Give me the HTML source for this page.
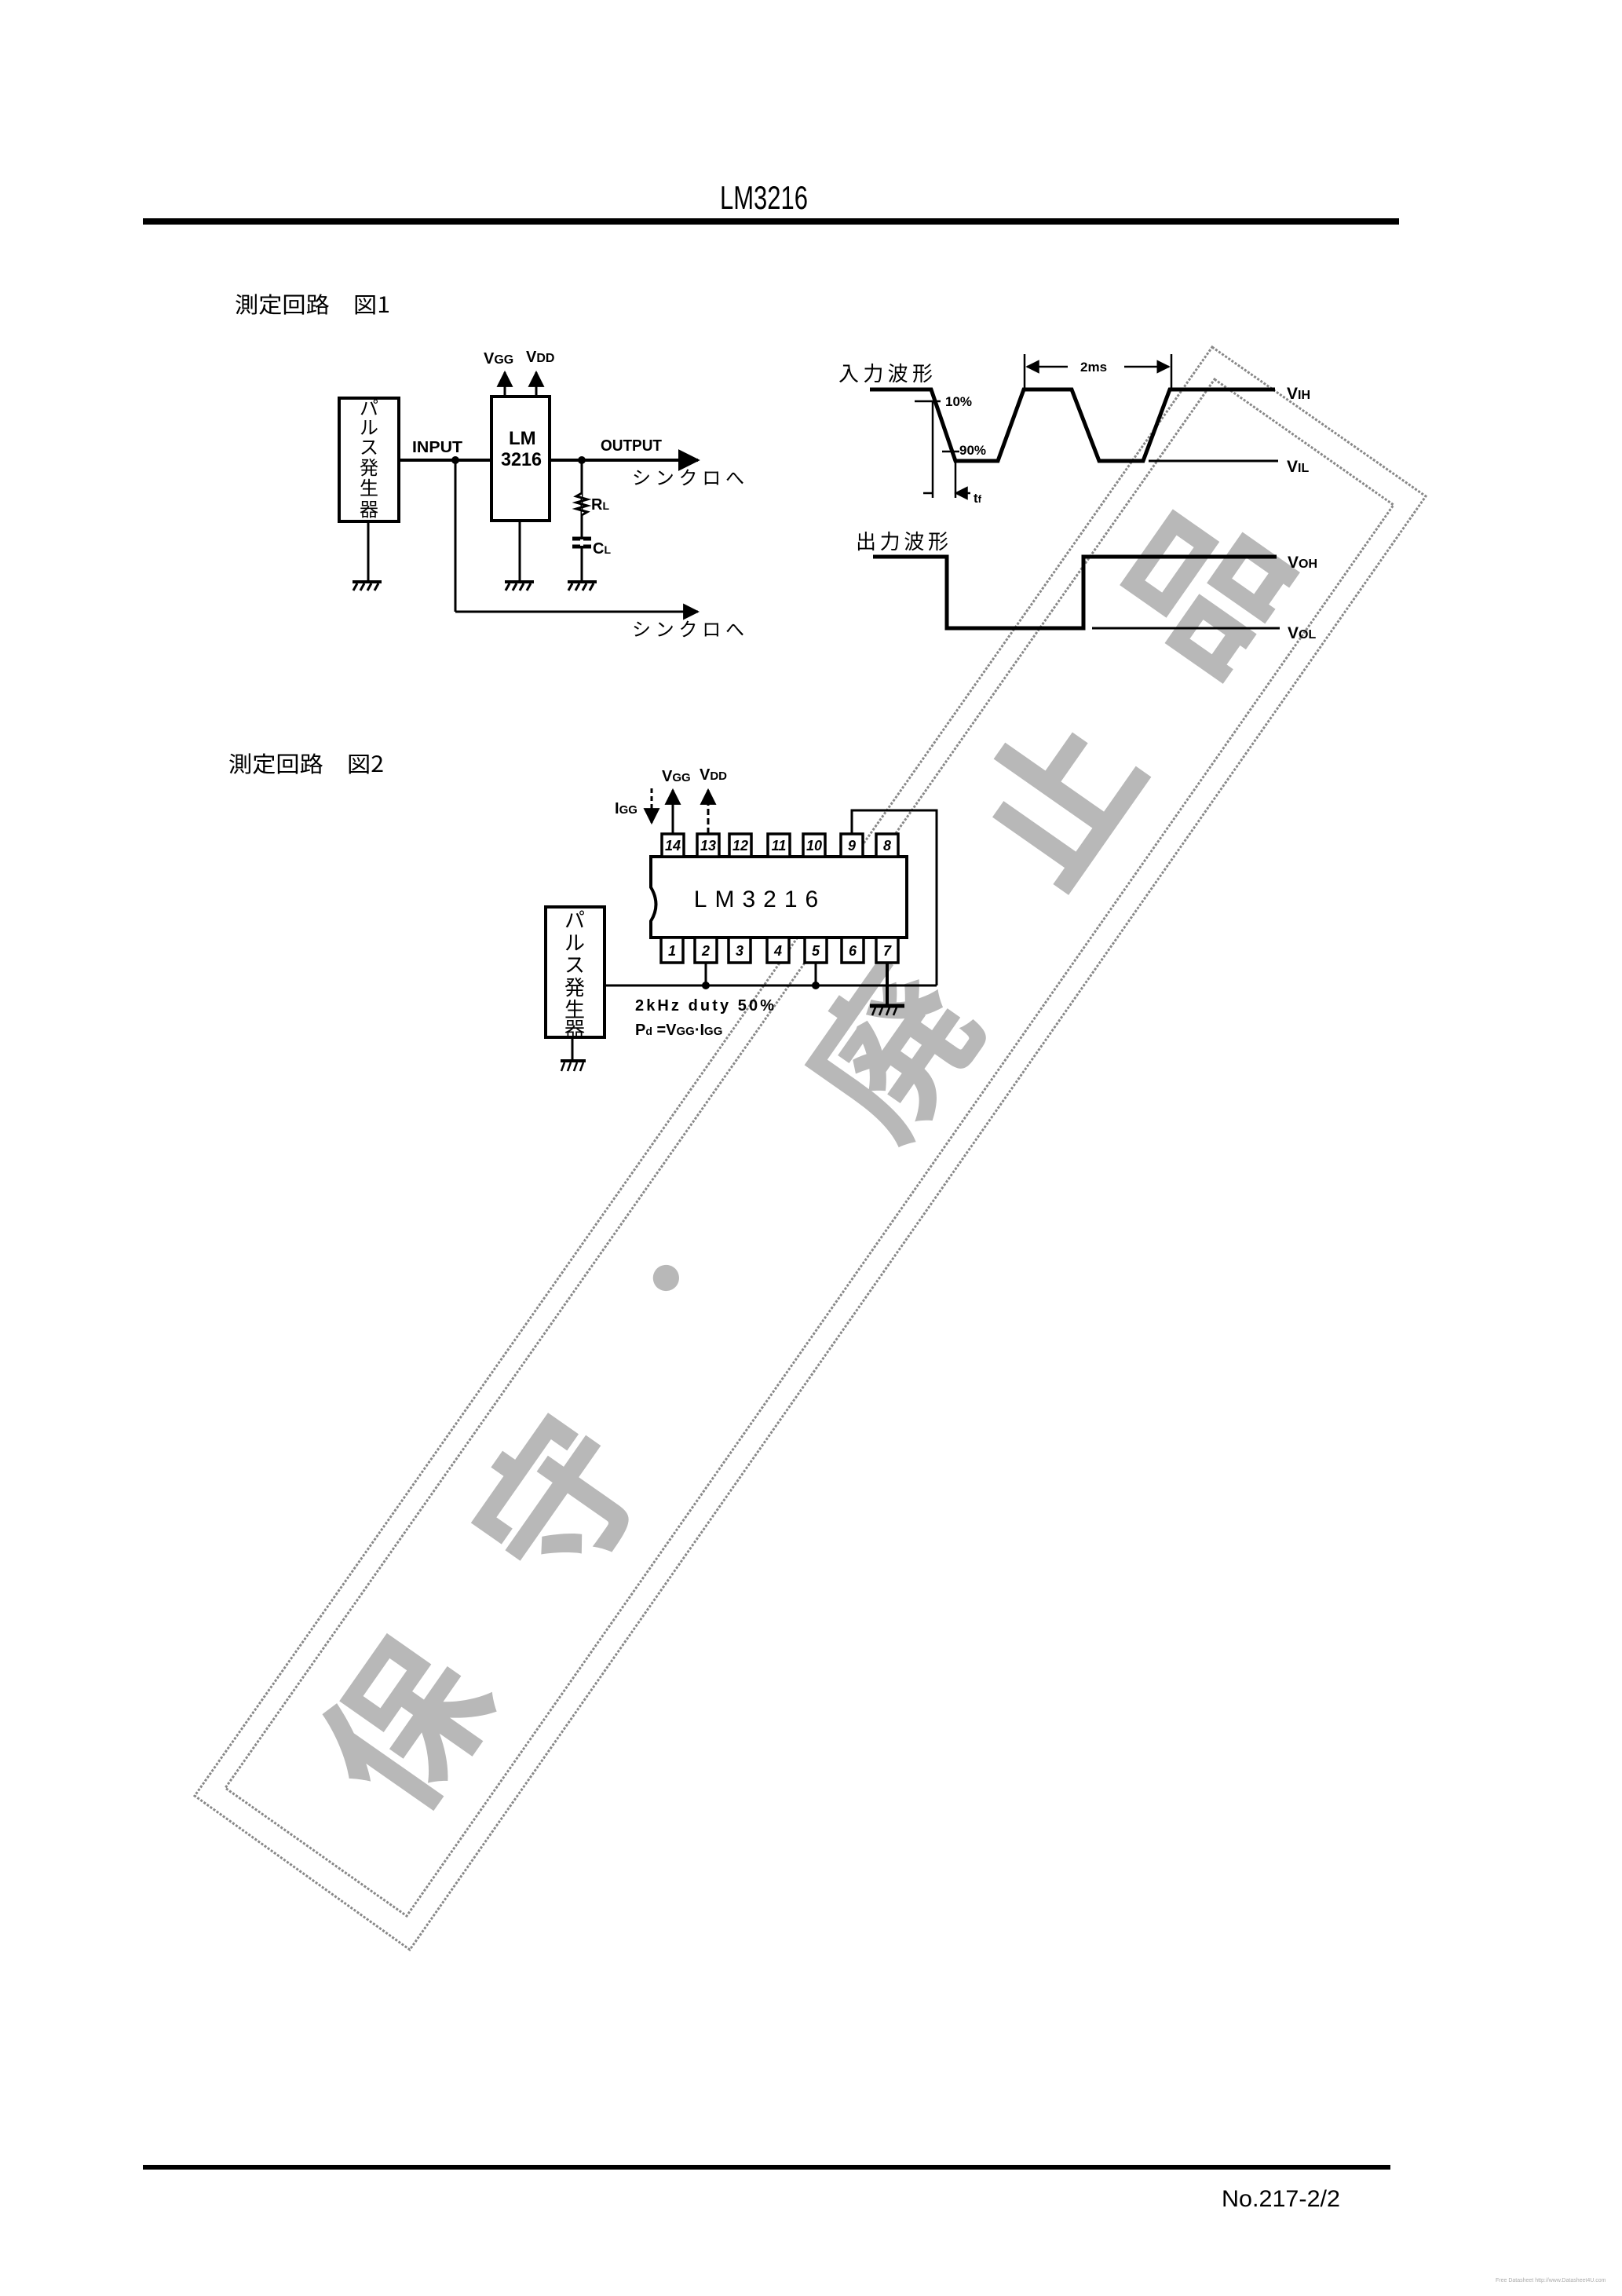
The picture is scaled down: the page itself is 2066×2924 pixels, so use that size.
<!DOCTYPE html>
<html><head><meta charset="utf-8"><style>
html,body{margin:0;padding:0;background:#fff;}
svg{display:block;}
text{font-family:"Liberation Sans","Noto Sans CJK JP",sans-serif;fill:#000;}
.j{font-family:"Noto Sans CJK JP","WenQuanYi Zen Hei",sans-serif;}
</style></head><body>
<svg width="2066" height="2924" viewBox="0 0 2066 2924" xmlns="http://www.w3.org/2000/svg">
<defs>
<marker id="ar" viewBox="0 0 10 10" refX="9" refY="5" markerWidth="7" markerHeight="7" orient="auto-start-reverse"><path d="M0,0 L10,5 L0,10 z" fill="#000"/></marker>
</defs>
<!-- watermark -->
<g fill="none" stroke="#888" stroke-width="3" stroke-dasharray="3 2">
<polygon points="1544,442 1816,632 522,2483 248,2287"/>
<polygon points="1547,483 1775,643 518,2440 287,2277"/>
</g>
<g font-size="200" font-weight="bold" text-anchor="middle">
<text class="j" x="520" y="2200" transform="rotate(-55 520 2200)" dy="70" style="fill:#b8b8b8">保</text>
<text class="j" x="715" y="1915" transform="rotate(-55 715 1915)" dy="70" style="fill:#b8b8b8">守</text>
<text class="j" x="852" y="1630" transform="rotate(-55 852 1630)" dy="45" font-size="130" style="fill:#b8b8b8">・</text>
<text class="j" x="1140" y="1340" transform="rotate(-55 1140 1340)" dy="70" style="fill:#b8b8b8">廃</text>
<text class="j" x="1350" y="1020" transform="rotate(-55 1350 1020)" dy="70" style="fill:#b8b8b8">止</text>
<text class="j" x="1535" y="750" transform="rotate(-55 1535 750)" dy="70" style="fill:#b8b8b8">品</text>
</g>

<!-- header -->
<text x="917" y="266" font-family="Liberation Mono" font-size="42" textLength="112" lengthAdjust="spacingAndGlyphs">LM3216</text>
<rect x="182" y="278" width="1600" height="8" fill="#000"/>
<text class="j" x="299" y="398" font-size="28" textLength="198" lengthAdjust="spacingAndGlyphs">測定回路　図1</text>

<!-- FIG 1 -->
<g stroke="#000" stroke-width="4" fill="none">
<rect x="432" y="507" width="76" height="157"/>
<line x1="469" y1="664" x2="469" y2="741" stroke-width="3"/>
<line x1="508" y1="586" x2="626" y2="586"/>
<line x1="580" y1="586" x2="580" y2="779" stroke-width="3"/>
<line x1="580" y1="779" x2="889" y2="779" stroke-width="3" marker-end="url(#ar)"/>
<rect x="626" y="505" width="74" height="158"/>
<line x1="643" y1="505" x2="643" y2="474" stroke-width="3" marker-end="url(#ar)"/>
<line x1="683" y1="505" x2="683" y2="474" stroke-width="3" marker-end="url(#ar)"/>
<line x1="700" y1="586" x2="889" y2="586" marker-end="url(#ar)"/>
<line x1="662" y1="663" x2="662" y2="741" stroke-width="3"/>
<line x1="741" y1="586" x2="741" y2="741" stroke-width="3"/>
<polyline points="741,628 734,632 748,636 734,640 748,644 734,648 748,652 741,656" stroke-width="3" fill="#fff"/>
<line x1="729" y1="686" x2="753" y2="686" stroke-width="5"/>
<line x1="729" y1="696" x2="753" y2="696" stroke-width="5"/>
</g>
<line x1="741" y1="687" x2="741" y2="695" stroke="#fff" stroke-width="4"/>
<circle cx="580" cy="586" r="5"/><circle cx="741" cy="586" r="5"/>
<g stroke="#000" stroke-width="3">
<line x1="449" y1="741" x2="486" y2="741" stroke-width="4"/>
<line x1="455" y1="743" x2="450" y2="752"/><line x1="464" y1="743" x2="459" y2="752"/><line x1="473" y1="743" x2="468" y2="752"/><line x1="482" y1="743" x2="477" y2="752"/>
<line x1="643" y1="741" x2="680" y2="741" stroke-width="4"/>
<line x1="649" y1="743" x2="644" y2="752"/><line x1="658" y1="743" x2="653" y2="752"/><line x1="667" y1="743" x2="662" y2="752"/><line x1="676" y1="743" x2="671" y2="752"/>
<line x1="723" y1="741" x2="760" y2="741" stroke-width="4"/>
<line x1="729" y1="743" x2="724" y2="752"/><line x1="738" y1="743" x2="733" y2="752"/><line x1="747" y1="743" x2="742" y2="752"/><line x1="756" y1="743" x2="751" y2="752"/>
</g>
<g font-size="24" text-anchor="middle">
<text class="j" x="470" y="528">パ</text><text class="j" x="470" y="553">ル</text><text class="j" x="470" y="578">ス</text><text class="j" x="470" y="604">発</text><text class="j" x="470" y="630">生</text><text class="j" x="470" y="657">器</text>
</g>
<g font-weight="bold" font-size="20">
<text x="525" y="576" textLength="64" lengthAdjust="spacingAndGlyphs">INPUT</text>
<text x="765" y="574" textLength="78" lengthAdjust="spacingAndGlyphs">OUTPUT</text>
<text x="648" y="566" font-size="24">LM</text>
<text x="638" y="593" font-size="24" textLength="52" lengthAdjust="spacingAndGlyphs">3216</text>
<text x="616" y="463" font-size="20">V<tspan font-size="16">GG</tspan></text>
<text x="670" y="461" font-size="20">V<tspan font-size="16">DD</tspan></text>
<text x="753" y="649" font-size="20">R<tspan font-size="14">L</tspan></text>
<text x="755" y="705" font-size="20">C<tspan font-size="14">L</tspan></text>
</g>
<text class="j" x="805" y="617" font-size="24" textLength="143" lengthAdjust="spacing">シンクロへ</text>
<text class="j" x="805" y="810" font-size="24" textLength="143" lengthAdjust="spacing">シンクロへ</text>

<!-- Waveforms -->
<text class="j" x="1068" y="485" font-size="26" textLength="120" lengthAdjust="spacing">入力波形</text>
<polyline points="1108,496 1186,496 1217,587 1271,587 1304,496 1365,496 1400,587 1456,587 1490,496 1624,496" stroke="#000" fill="none" stroke-width="5"/>
<g stroke="#000" fill="none" stroke-width="2.5">
<line x1="1463" y1="587" x2="1628" y2="587" stroke-width="3"/>
<line x1="1165" y1="511" x2="1198" y2="511"/>
<line x1="1200" y1="575" x2="1222" y2="575"/>
<line x1="1188" y1="511" x2="1188" y2="634"/>
<line x1="1217" y1="587" x2="1217" y2="634"/>
<line x1="1176" y1="628" x2="1188" y2="628"/>
<line x1="1217" y1="628" x2="1236" y2="628" marker-start="url(#ar)"/>
<line x1="1305" y1="451" x2="1305" y2="496"/>
<line x1="1492" y1="451" x2="1492" y2="496"/>
<line x1="1308" y1="467" x2="1360" y2="467" marker-start="url(#ar)"/>
<line x1="1432" y1="467" x2="1489" y2="467" marker-end="url(#ar)"/>
</g>
<g font-weight="bold" font-size="17">
<text x="1204" y="517">10%</text>
<text x="1222" y="579">90%</text>
<text x="1240" y="640">t<tspan font-size="13">f</tspan></text>
<text x="1376" y="473">2ms</text>
<text x="1639" y="508" font-size="21">V<tspan font-size="16">IH</tspan></text>
<text x="1639" y="601" font-size="21">V<tspan font-size="16">IL</tspan></text>
<text x="1640" y="723" font-size="21">V<tspan font-size="16">OH</tspan></text>
<text x="1640" y="813" font-size="21">V<tspan font-size="16">OL</tspan></text>
</g>
<text class="j" x="1090" y="699" font-size="26" textLength="118" lengthAdjust="spacing">出力波形</text>
<polyline points="1112,709 1206,709 1206,800 1380,800 1380,709 1626,709" stroke="#000" stroke-width="5" fill="none"/>
<line x1="1391" y1="800" x2="1630" y2="800" stroke="#000" stroke-width="3"/>

<!-- FIG 2 -->
<text class="j" x="291" y="983" font-size="28" textLength="198" lengthAdjust="spacingAndGlyphs">測定回路　図2</text>
<path d="M829,1091 H1155 V1194 H829 V1173 Q842,1152 829,1130 Z" fill="#fff" stroke="#000" stroke-width="4"/>
<text x="968" y="1155" font-size="30" text-anchor="middle" letter-spacing="10">LM3216</text>
<g stroke="#000" stroke-width="3.5" fill="#fff">
<rect x="843" y="1062" width="28" height="29"/><rect x="888" y="1062" width="28" height="29"/><rect x="929" y="1062" width="28" height="29"/><rect x="978" y="1062" width="28" height="29"/><rect x="1023" y="1062" width="28" height="29"/><rect x="1071" y="1062" width="28" height="29"/><rect x="1116" y="1062" width="28" height="29"/>
<rect x="842" y="1194" width="28" height="32"/><rect x="885" y="1194" width="28" height="32"/><rect x="928" y="1194" width="28" height="32"/><rect x="977" y="1194" width="28" height="32"/><rect x="1025" y="1194" width="28" height="32"/><rect x="1072" y="1194" width="28" height="32"/><rect x="1116" y="1194" width="28" height="32"/>
</g>
<g font-size="18" font-style="italic" font-weight="bold" text-anchor="middle">
<text x="857" y="1083">14</text><text x="902" y="1083">13</text><text x="943" y="1083">12</text><text x="992" y="1083">11</text><text x="1037" y="1083">10</text><text x="1085" y="1083">9</text><text x="1130" y="1083">8</text>
<text x="856" y="1217">1</text><text x="899" y="1217">2</text><text x="942" y="1217">3</text><text x="991" y="1217">4</text><text x="1039" y="1217">5</text><text x="1086" y="1217">6</text><text x="1130" y="1217">7</text>
</g>
<g stroke="#000" stroke-width="3" fill="none">
<rect x="695" y="1155" width="75" height="166" stroke-width="4"/>
<line x1="729" y1="1321" x2="729" y2="1350"/>
<line x1="770" y1="1255" x2="1193" y2="1255"/>
<polyline points="1085,1062 1085,1032 1193,1032 1193,1255"/>
<line x1="899" y1="1226" x2="899" y2="1255"/>
<line x1="1039" y1="1226" x2="1039" y2="1255"/>
<line x1="1130" y1="1226" x2="1130" y2="1280" stroke-width="4"/>
<line x1="857" y1="1062" x2="857" y2="1006" marker-end="url(#ar)"/>
<line x1="902" y1="1062" x2="902" y2="1006" stroke-dasharray="8 4" marker-end="url(#ar)"/>
<line x1="830" y1="1004" x2="830" y2="1048" stroke-dasharray="6 4" marker-end="url(#ar)"/>
<line x1="1108" y1="1281" x2="1152" y2="1281" stroke-width="5"/>
<line x1="714" y1="1351" x2="746" y2="1351" stroke-width="4"/>
</g>
<g stroke="#000" stroke-width="2.5">
<line x1="719" y1="1353" x2="715" y2="1364"/><line x1="727" y1="1353" x2="723" y2="1364"/><line x1="735" y1="1353" x2="731" y2="1364"/><line x1="743" y1="1353" x2="739" y2="1364"/>
<line x1="1115" y1="1283" x2="1111" y2="1293"/><line x1="1124" y1="1283" x2="1120" y2="1293"/><line x1="1133" y1="1283" x2="1129" y2="1293"/><line x1="1142" y1="1283" x2="1138" y2="1293"/>
</g>
<circle cx="899" cy="1255" r="5"/><circle cx="1039" cy="1255" r="5"/>
<g font-size="26" text-anchor="middle">
<text class="j" x="732" y="1181">パ</text><text x="732" y="1210" class="j">ル</text><text class="j" x="732" y="1238">ス</text><text class="j" x="732" y="1267">発</text><text class="j" x="732" y="1295">生</text><text class="j" x="732" y="1320">器</text>
</g>
<g font-weight="bold" font-size="20">
<text x="843" y="995">V<tspan font-size="15">GG</tspan></text>
<text x="891" y="993">V<tspan font-size="15">DD</tspan></text>
<text x="783" y="1036">I<tspan font-size="15">GG</tspan></text>
<text x="809" y="1287" textLength="177" lengthAdjust="spacing">2kHz duty 50%</text>
<text x="809" y="1318">P<tspan font-size="14">d</tspan> =V<tspan font-size="15">GG</tspan>·I<tspan font-size="15">GG</tspan></text>
</g>

<!-- footer -->
<rect x="182" y="2757" width="1589" height="6" fill="#000"/>
<text x="1556" y="2810" font-family="Liberation Mono" font-size="30" textLength="151" lengthAdjust="spacingAndGlyphs">No.217-2/2</text>
<text x="1905" y="2906" font-size="7" style="fill:#aaa">Free Datasheet http://www.Datasheet4U.com</text>
</svg>
</body></html>
